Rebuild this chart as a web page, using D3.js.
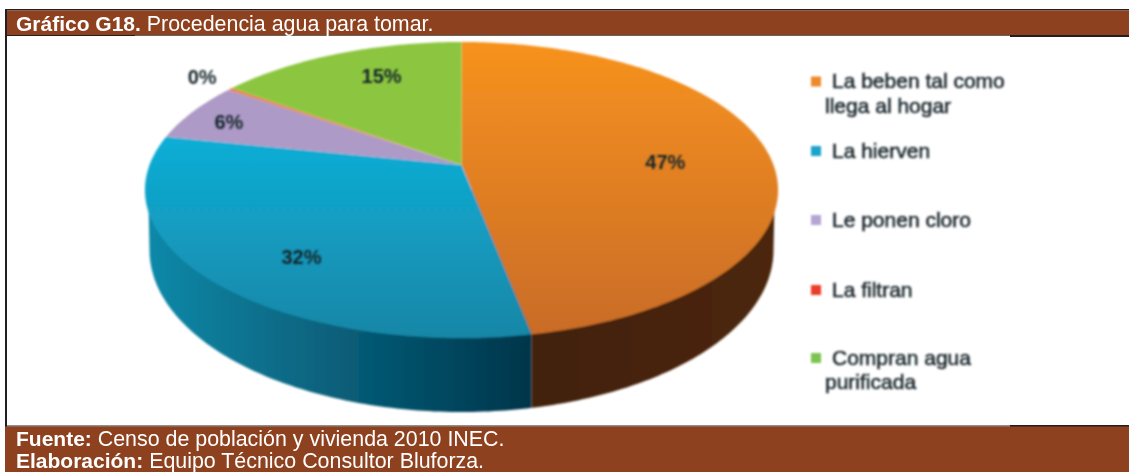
<!DOCTYPE html>
<html>
<head>
<meta charset="utf-8">
<script src="https://cdn.jsdelivr.net/npm/d3@7"></script>
<style>
  html, body { margin: 0; padding: 0; background: #fff; overflow: hidden; }
  text { font-family: "Liberation Sans", Arial, sans-serif; }
</style>
</head>
<body>
<div id="plot"></div>
<script>
// chart values
const categories = ["La beben tal como|llega al hogar", "La hierven", "Le ponen cloro", "La filtran", "Compran agua|purificada"];
const shares = [47, 31.25, 6.45, 0.3, 15]; // slice sizes
const labels = ["47%", "32%", "6%", "0%", "15%"];
const colors = ["#f28b24", "#12a9d0", "#ad9ac7", "#e8804a", "#8cc63f"];
const legendColors = ["#ee8a2a", "#1ba3cb", "#b3a6d3", "#ee3a2c", "#7cc34f"];

const titleBold = "Gráfico G18.";
const titleText = " Procedencia agua para tomar.";
const footer = [["Fuente:", " Censo de población y vivienda 2010 INEC."], ["Elaboración:", " Equipo Técnico Consultor Bluforza."]];

const width = 1129, height = 472;
const brown = "#8e411e", ink = "#231f20";

const svg = d3.select("#plot").append("svg")
  .attr("width", width)
  .attr("height", height)
  .style("display", "block");

const defs = svg.append("defs");

// the source picture is a soft, low resolution scan
defs.append("filter").attr("id", "soft")
  .attr("x", "-5%").attr("y", "-5%").attr("width", "110%").attr("height", "110%")
  .append("feGaussianBlur").attr("stdDeviation", 0.9);
defs.append("filter").attr("id", "softText")
  .attr("x", "-5%").attr("y", "-20%").attr("width", "110%").attr("height", "140%")
  .append("feGaussianBlur").attr("stdDeviation", 0.8);

function gradient(id, x1, y1, x2, y2, from, to) {
  const g = defs.append("linearGradient").attr("id", id)
    .attr("gradientUnits", "userSpaceOnUse")
    .attr("x1", x1).attr("y1", y1).attr("x2", x2).attr("y2", y2);
  g.append("stop").attr("offset", 0).attr("stop-color", from);
  g.append("stop").attr("offset", 1).attr("stop-color", to);
}

// perspective disc: the apex sits above the middle of the ellipse
const apex = { x: 461.5, y: 165 };
const tilt = -0.169, spreadX = 312, spreadY = 143.8;

function project(angle, r) {
  const u = Math.sin(angle) * r, v = -Math.cos(angle) * r;
  const w = 1 + tilt * v;
  return [apex.x + spreadX * u / w, apex.y + spreadY * v / w];
}

const pie = d3.pie().sort(null).value(d => d);
const arcs = pie(shares);

const line = d3.line();
const chart = svg.append("g").attr("filter", "url(#soft)");

// wall, split where the first slice ends
const floor = { x: 461.5, y: 250, rx: 312, ry: 162 };
const splitX = project(arcs[0].endAngle, 1)[0];
const turn = d3.scaleLinear().domain([0, 180]).range([0, Math.PI]);
const floorPts = d3.range(0, 181).map(i => [
  floor.x + floor.rx * Math.cos(turn(i)),
  floor.y + floor.ry * Math.sin(turn(i))
]);
// widest points of the top ellipse, joined to the floor
const sideAngle = Math.acos(tilt);
const wallPath = line(floorPts) + "Z" +
  line([project(sideAngle, 0.99), [floor.x + floor.rx, floor.y], [floor.x - floor.rx, floor.y], project(-sideAngle, 0.99)]) + "Z";

defs.append("clipPath").attr("id", "wallLeft").append("rect")
  .attr("x", 0).attr("y", 0).attr("width", splitX).attr("height", height);
defs.append("clipPath").attr("id", "wallRight").append("rect")
  .attr("x", splitX).attr("y", 0).attr("width", width - splitX).attr("height", height);

gradient("wallBlue", 150, 0, splitX, 0, "#0f88a8", "#00354a");
gradient("wallBrown", splitX, 0, 770, 0, "#42210a", "#4b2609");

chart.append("path").attr("d", wallPath).attr("fill", "url(#wallBlue)").attr("clip-path", "url(#wallLeft)");
chart.append("path").attr("d", wallPath).attr("fill", "url(#wallBrown)").attr("clip-path", "url(#wallRight)");

// top face
gradient("topOrange", 0, 42, 0, 334, "#f7921e", "#c96c28");
gradient("topBlue", 0, 137, 0, 340, "#10aed6", "#1586a6");

chart.selectAll("path.slice")
  .data(arcs)
  .enter().append("path")
  .attr("class", "slice")
  .attr("d", d => {
    const steps = Math.max(2, Math.ceil((d.endAngle - d.startAngle) * 60));
    const pts = d3.range(steps + 1).map(i => project(d.startAngle + (d.endAngle - d.startAngle) * i / steps, 1));
    return line([[apex.x, apex.y], ...pts]) + "Z";
  })
  .attr("fill", (d, i) => i === 0 ? "url(#topOrange)" : i === 1 ? "url(#topBlue)" : colors[i]);

// data labels, placed along each slice's middle
const labelDist = [0.656, 0.741, 0.848, 1.154, 0.748];
const labelNudge = [0.063, -0.119, -0.021, 0.018, 0.079];

svg.append("g").attr("filter", "url(#softText)")
  .selectAll("text")
  .data(arcs)
  .enter().append("text")
  .attr("transform", (d, i) => {
    const p = project((d.startAngle + d.endAngle) / 2 + labelNudge[i], labelDist[i]);
    return "translate(" + p[0] + "," + p[1] + ")";
  })
  .attr("text-anchor", "middle")
  .attr("dy", "0.36em")
  .attr("font-size", 20)
  .attr("font-weight", "bold")
  .attr("fill", "#16252a")
  .text((d, i) => labels[i]);

// legend
const legendRows = [81.5, 151, 220, 290, 358];
const legend = svg.append("g").attr("filter", "url(#softText)");

categories.forEach((c, i) => {
  const y = legendRows[i];
  legend.append("rect")
    .attr("x", 811).attr("y", y - 5)
    .attr("width", 10).attr("height", 10)
    .attr("fill", legendColors[i]);
  c.split("|").forEach((part, j) => {
    legend.append("text")
      .attr("x", j === 0 ? 832 : 825)
      .attr("y", y + 6.5 + j * 24.5)
      .attr("font-size", 21)
      .attr("fill", "#1f2a30")
      .attr("stroke", "#1f2a30")
      .attr("stroke-width", 0.6)
      .text(part);
  });
});

// frame and bands
svg.append("rect").attr("x", 5).attr("y", 9).attr("width", width - 5).attr("height", 1.5).attr("fill", ink);
svg.append("rect").attr("x", 5).attr("y", 9).attr("width", 2).attr("height", 418).attr("fill", ink);
svg.append("rect").attr("x", 7).attr("y", 10.5).attr("width", width - 7).attr("height", 24.5).attr("fill", brown);
svg.append("rect").attr("x", 7).attr("y", 35).attr("width", 128).attr("height", 1).attr("fill", ink);
svg.append("rect").attr("x", 135).attr("y", 35).attr("width", 875).attr("height", 0.7).attr("fill", ink);
svg.append("rect").attr("x", 1010).attr("y", 35).attr("width", 119).attr("height", 2).attr("fill", ink);
svg.append("rect").attr("x", 7).attr("y", 425.5).attr("width", width - 7).attr("height", 1).attr("fill", ink);
svg.append("rect").attr("x", 1010).attr("y", 425).attr("width", 119).attr("height", 2).attr("fill", ink);
svg.append("rect").attr("x", 5).attr("y", 426.5).attr("width", width - 5).attr("height", height - 426.5).attr("fill", brown);

const title = svg.append("text").attr("x", 16).attr("y", 30.5).attr("font-size", 21).attr("fill", "#fff");
title.append("tspan").attr("font-weight", "bold").text(titleBold);
title.append("tspan").attr("font-size", 21.4).text(titleText);

footer.forEach((row, i) => {
  const t = svg.append("text").attr("x", 16).attr("y", 445.5 + i * 22.5).attr("font-size", 21).attr("fill", "#fff");
  t.append("tspan").attr("font-weight", "bold").text(row[0]);
  t.append("tspan").attr("font-size", 21.4).text(row[1]);
});
</script>
</body>
</html>
